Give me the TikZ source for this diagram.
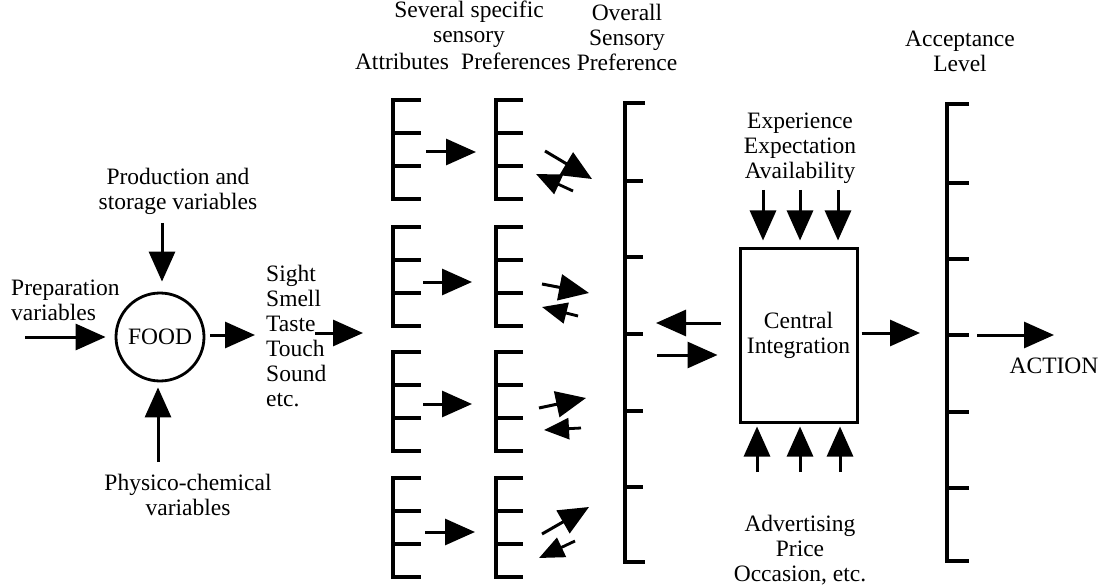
\documentclass[tikz,border=0pt]{standalone}
\usepackage{fontspec}
\setmainfont{Liberation Serif}
\usetikzlibrary{arrows.meta}
\begin{document}
\begin{tikzpicture}[x=1pt,y=-1pt,
  lbl/.style={inner sep=0pt, align=center, font=\fontsize{23.5}{25}\selectfont},
  scl/.style={line width=3.4pt},
  arr/.style={line width=3pt, -{Triangle[length=30pt,width=26pt]}},
  sarr/.style={line width=2.8pt, -{Triangle[length=25pt,width=21pt]}}]
\useasboundingbox (0,0) rectangle (1099,585);

% ---- food and its influences ----
\node[draw, circle, line width=2.8pt, minimum size=88pt, inner sep=0pt,
      font=\fontsize{23.5}{25}\selectfont] (food) at (160,337) {FOOD};
\node[lbl, anchor=west, align=left] (prep) at (11,300) {Preparation\\variables};
\node[lbl] (prod) at (178,191) {Production and\\storage variables};
\node[lbl] (phys) at (188,495) {Physico-chemical\\variables};
\node[lbl, anchor=west, align=left] (senses) at (266,336) {Sight\\Smell\\Taste\\Touch\\Sound\\etc.};

\coordinate (prepin) at (25,337);
\draw[arr] (prepin) -- ([xshift=-9pt]food.west);
\draw[arr] (162,223) -- ([yshift=10pt]food.north -| 162,0);
\draw[arr] (158,462) -- ([yshift=-5pt]food.south -| 158,0);
\draw[arr] ([xshift=5pt]food.east |- 0,335) -- (255,335);
\coordinate (sensout) at (315,333);
\coordinate (sensin) at (363,333);
\draw[arr] (sensout) -- (sensin);

% ---- headings ----
\node[lbl] (several) at (469,24) {Several specific\\sensory};
\node[lbl] (attr) at (402,61) {Attributes};
\node[lbl] (prefs) at (516,61) {Preferences};
\node[lbl] (overall) at (627,37) {Overall\\Sensory\\Preference};
\node[lbl] (accept) at (960,51) {Acceptance\\Level};

% ---- attribute and preference scales ----
\foreach \t in {100,227,352,478} {
  \draw[scl] (421,\t) -| (393,\t+99) -- (421,\t+99);
  \draw[scl] (393,\t+33) -- (421,\t+33) (393,\t+66) -- (421,\t+66);
  \draw[scl] (523,\t) -| (496,\t+99) -- (523,\t+99);
  \draw[scl] (496,\t+33) -- (523,\t+33) (496,\t+66) -- (523,\t+66);
}
\draw[arr] (426,152) -- (476,152);
\draw[arr] (423,282) -- (472,282);
\draw[arr] (423,404) -- (472,404);
\draw[arr] (425,532) -- (475,532);

% links between specific preferences and overall preference
\draw[arr] (545,151) -- (592,179);
\draw[sarr] (573,191) -- (536,174);
\draw[arr] (542,284) -- (589,293);
\draw[sarr] (578,316) -- (542,307);
\draw[arr] (539,408) -- (586,398);
\draw[sarr] (581,428) -- (544,430);
\draw[arr] (542,534) -- (589,507);
\draw[sarr] (575,541) -- (539,558);

% ---- overall sensory preference scale ----
\draw[scl] (645,103) -| (625,562) -- (645,562);
\foreach \y in {181,257,334,411,487} \draw[scl] (625,\y) -- (643,\y);

% ---- central integration ----
\node[draw, line width=3pt, minimum width=117pt, minimum height=174pt, inner sep=0pt,
      align=center, font=\fontsize{23.5}{25}\selectfont] (central) at (798.5,335) {Central\\Integration};
\node[lbl] (exp) at (800,148) {Experience\\Expectation\\Availability};
\node[lbl] (adv) at (800,550) {Advertising\\Price\\Occasion, etc.};

\draw[arr] ([xshift=-18pt]central.west |- 0,323) -- (656,323);
\draw[arr] (657,355) -- ([xshift=-21pt]central.west |- 0,355);
\foreach \x in {763,800,838}
  \draw[arr] (\x,190) -- ([yshift=6pt]central.north -| \x,0);
\foreach \x in {757,800,840}
  \draw[arr] (\x,472) -- ([yshift=-3pt]central.south -| \x,0);
\draw[arr] ([xshift=3pt]central.east |- 0,333) -- (920,333);

% ---- acceptance level scale ----
\draw[scl] (969,104) -| (947,561) -- (969,561);
\foreach \y in {183,259,335,412,488} \draw[scl] (947,\y) -- (969,\y);

\node[lbl] (action) at (1054,366) {ACTION};
\coordinate (actout) at (977,335);
\draw[arr] (actout) -- (action.north |- 0,335);
\end{tikzpicture}
\end{document}
